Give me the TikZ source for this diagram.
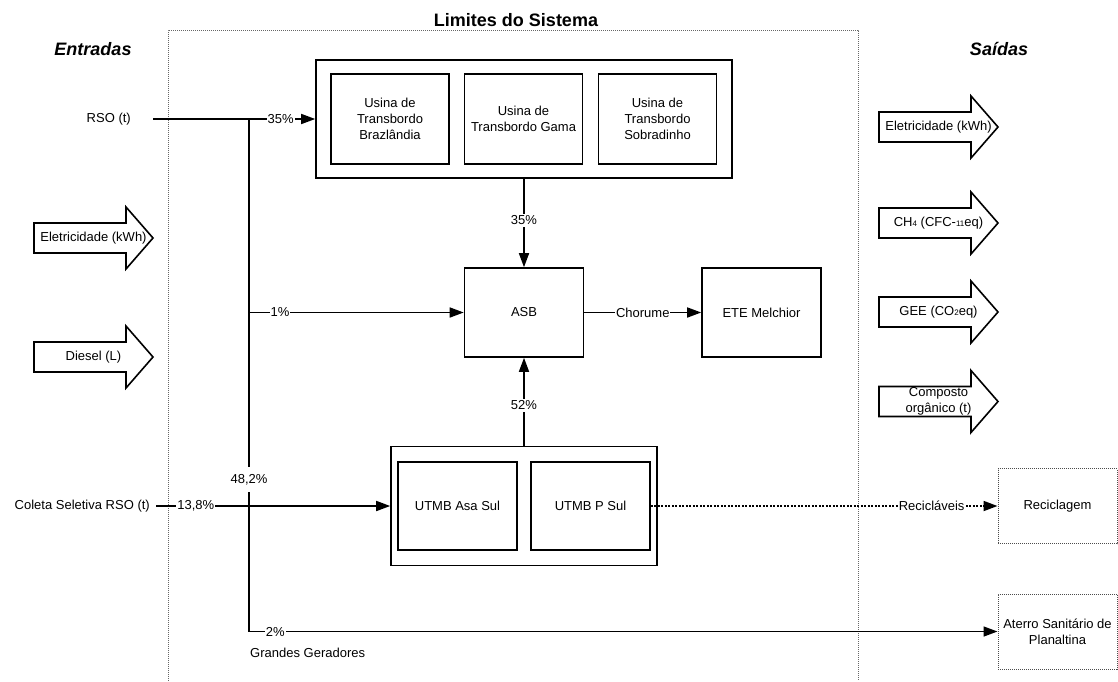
\documentclass[tikz,border=0pt]{standalone}
\usepackage{fontspec}
\setmainfont{Liberation Sans}
\usetikzlibrary{arrows.meta}

% small inline figures used in the emission labels
\newcommand{\smallnum}[1]{{\fontsize{8}{8}\selectfont #1}}

% wide block arrow: name, left x, centre y, text
\newcommand{\fatarrow}[4]{%
  \draw[blockarrow] (#2,#3-15) -- (#2+92,#3-15) -- (#2+92,#3-31) -- (#2+119,#3)
     -- (#2+92,#3+31) -- (#2+92,#3+15) -- (#2,#3+15) -- cycle;
  \node[align=center] (#1) at (#2+59.5,#3) {#4};%
}

\begin{document}
\begin{tikzpicture}[x=1pt,y=-1pt,
  every node/.style={font=\fontsize{13}{16}\selectfont},
  box/.style={draw, line width=1.6pt, align=center, inner sep=2pt},
  flow/.style={line width=1.6pt, -{Triangle[length=14pt,width=10pt]}},
  lbl/.style={fill=white, inner xsep=1pt, inner ysep=2pt},
  bound/.style={draw=black!60, line width=1pt, dash pattern=on 1pt off 1pt},
  dotbox/.style={draw=black!70, line width=1pt, dash pattern=on 1pt off 1pt, align=center},
  dotflow/.style={line width=1.8pt, dash pattern=on 2pt off 1.5pt, -{Triangle[length=14pt,width=10pt]}},
  blockarrow/.style={draw, line width=1.6pt, fill=white, line join=miter},
  heading/.style={font=\fontsize{18}{20}\selectfont\bfseries\itshape}
]
\useasboundingbox (0,0) rectangle (1118,681);

% system boundary
\draw[bound] (168,681) -- (168,30) -- (858,30) -- (858,681);
\node[font=\fontsize{18}{20}\selectfont\bfseries] (title) at (516,20) {Limites do Sistema};
\node[heading] (entradas) at (93,49) {Entradas};
\node[heading] (saidas) at (999,49) {Saídas};

% transfer stations
\node[box, minimum width=416pt, minimum height=118pt] (transb) at (524,119) {};
\node[box, minimum width=118pt, minimum height=90pt] (bz) at (390,119) {Usina de\\Transbordo\\Brazlândia};
\node[box, minimum width=118pt, minimum height=90pt] (gama) at (523.5,119) {Usina de\\Transbordo Gama};
\node[box, minimum width=118pt, minimum height=90pt] (sob) at (657.5,119) {Usina de\\Transbordo\\Sobradinho};

% landfill and leachate treatment
\node[box, minimum width=119pt, minimum height=89pt] (asb) at (524,312.5) {ASB};
\node[box, minimum width=119pt, minimum height=89pt] (ete) at (761.5,312.5) {ETE Melchior};

% sorting plants
\node[box, minimum width=266pt, minimum height=119pt] (utmb) at (524,506) {};
\node[box, minimum width=119pt, minimum height=88pt] (asasul) at (457.5,506) {UTMB Asa Sul};
\node[box, minimum width=119pt, minimum height=88pt] (psul) at (590.5,506) {UTMB P Sul};

% external destinations
\node[dotbox, minimum width=119pt, minimum height=75pt] (recic) at (1057.5,506) {Reciclagem};
\node[dotbox, minimum width=119pt, minimum height=75pt] (aterro) at (1057.5,631.5) {Aterro Sanitário de\\Planaltina};

% input texts
\node[anchor=east, inner sep=0pt] (rso) at (131,119) {RSO (t)};
\node[anchor=east, inner sep=0pt] (coleta) at (150,506) {Coleta Seletiva RSO (t)};
\node[anchor=west, inner sep=0pt] (gg) at (250,653) {Grandes Geradores};

% junction points
\coordinate (rsoin) at (153,119);
\coordinate (split) at (249,119);
\coordinate (tap) at (249,312.5);
\coordinate (corner) at (249,631.5);
\coordinate (colin) at (156,506);

% flows
\draw[flow] (rsoin) -- node[lbl, pos=0.787] {35\%} (transb.west);
\draw[flow] (split) -- node[lbl, pos=0.703, inner ysep=7pt] {48,2\%} (corner)
  -- node[lbl, pos=0.035] {2\%} (aterro.west);
\draw[flow] (tap) -- node[lbl, pos=0.144] {1\%} (asb.west);
\draw[flow] (colin) -- node[lbl, pos=0.17] {13,8\%} (utmb.west);
\draw[flow] (transb.south) -- node[lbl, pos=0.47] {35\%} (asb.north);
\draw[flow] (utmb.north) -- node[lbl, pos=0.46] {52\%} (asb.south);
\draw[flow] (asb.east) -- node[lbl] {Chorume} (ete.west);
\draw[dotflow] (psul.east) -- node[lbl, pos=0.81] {Recicláveis} (recic.west);

% inputs
\fatarrow{ineletr}{34}{238}{Eletricidade (kWh)}
\fatarrow{indiesel}{34}{357}{Diesel (L)}

% outputs
\fatarrow{outeletr}{879}{127}{Eletricidade (kWh)}
\fatarrow{outch}{879}{223}{CH\smallnum{4} (CFC-\smallnum{11}eq)}
\fatarrow{outgee}{879}{312}{GEE (CO\smallnum{2}eq)}
\fatarrow{outcomp}{879}{401.5}{Composto\\orgânico (t)}
\end{tikzpicture}
\end{document}
